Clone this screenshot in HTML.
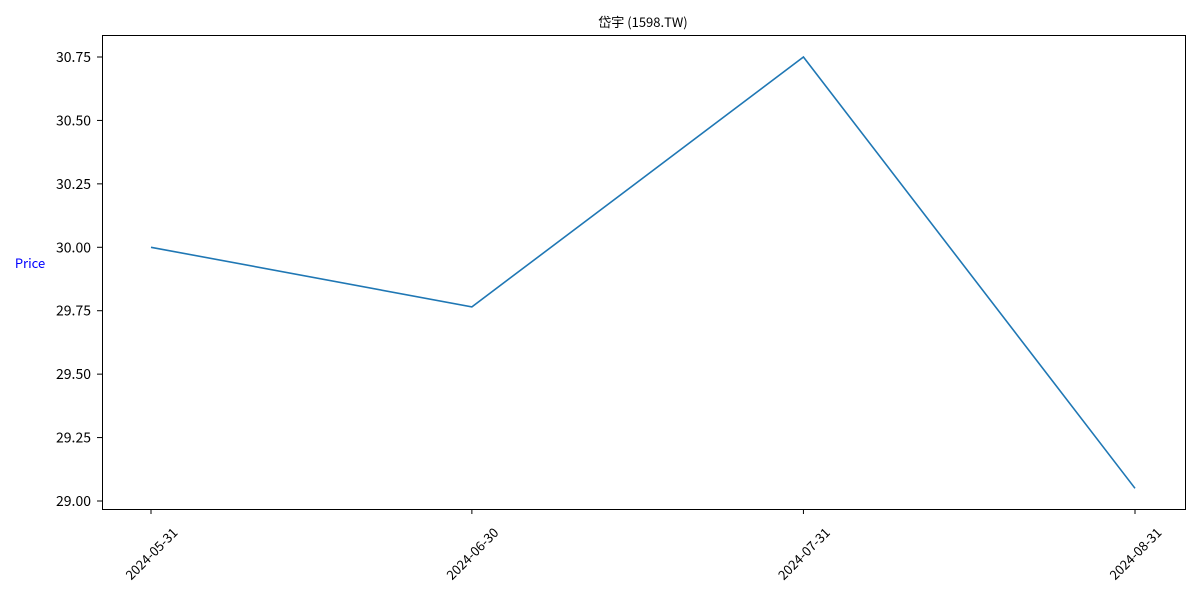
<!DOCTYPE html>
<html><head><meta charset="utf-8"><style>
body{margin:0;background:#fff;width:1200px;height:600px;overflow:hidden}
svg text{font-family:"Noto Sans CJK TC","Liberation Sans",sans-serif;font-size:14px;fill:#000}
</style></head><body>
<svg id="chart" width="1200" height="600" viewBox="0 0 1200 600"></svg>
<script>
const dates = ["2024-05-31","2024-06-30","2024-07-31","2024-08-31"];
const prices = [30.00, 29.765, 30.75, 29.05];
const yTicks = [29.00,29.25,29.50,29.75,30.00,30.25,30.50,30.75];

const svg=document.getElementById('chart');
const NS='http://www.w3.org/2000/svg';
const L=102,R=1185,T=35,B=509;
const day=d=>Date.parse(d)/86400000;
const d0=day(dates[0]), d1=day(dates[dates.length-1]);
const x=d=>151+(day(d)-d0)/(d1-d0)*(1135-151);
const y=v=>501-(v-29.00)/(30.75-29.00)*(501-57);
function mk(tag,attrs,parent){const e=document.createElementNS(NS,tag);for(const k in attrs)e.setAttribute(k,attrs[k]);(parent||svg).appendChild(e);return e;}

const title=mk('text',{x:643,y:27,'text-anchor':'middle',style:'font-size:13px'});


title.textContent='岱宇 (1598.TW)';

const yl=mk('text',{x:30,y:268,'text-anchor':'middle',style:'fill:#0000ff;font-size:13px'});


yl.textContent='Price';

yTicks.forEach(v=>{
  const g=mk('g',{});
  
  
  mk('line',{x1:L-5,x2:L,y1:y(v),y2:y(v),stroke:'#000','stroke-width':1},g);
  mk('text',{x:L-11,y:y(v)+5,'text-anchor':'end'},g).textContent=v.toFixed(2);
});
dates.forEach(d=>{
  const g=mk('g',{});
  
  
  mk('line',{x1:x(d),x2:x(d),y1:B,y2:B+5,stroke:'#000','stroke-width':1},g);
  const t=mk('text',{x:x(d),y:0,'text-anchor':'middle','dominant-baseline':'central',style:'font-size:13px'},g);
  t.textContent=d;
  const w=t.getComputedTextLength(), h=13;
  const cy=B+16+(w+h)/(2*Math.SQRT2);
  t.setAttribute('y',cy);
  t.setAttribute('transform',`rotate(-45 ${x(d)} ${cy})`);
});

const line=mk('polyline',{points:dates.map((d,i)=>x(d)+','+y(prices[i])).join(' '),fill:'none',stroke:'#1f77b4','stroke-width':1.6});



const frame=mk('rect',{x:L+0.5,y:T+0.5,width:R-L,height:B-T,fill:'none',stroke:'#000','stroke-width':1});


</script>
</body></html>
